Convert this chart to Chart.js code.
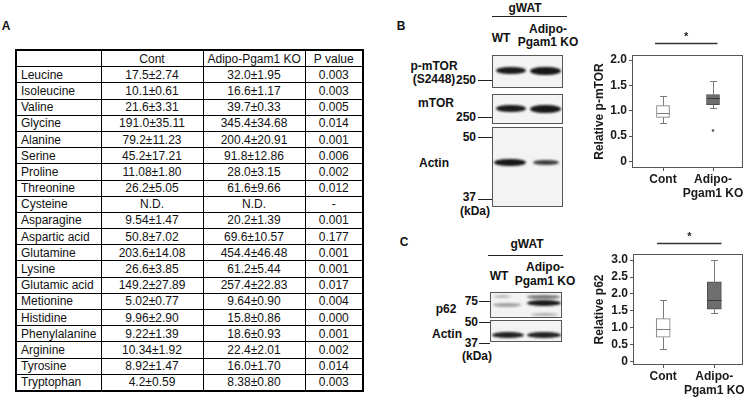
<!DOCTYPE html>
<html>
<head>
<meta charset="utf-8">
<script src="https://cdn.jsdelivr.net/npm/chart.js@4.4.1/dist/chart.umd.min.js"></script>
<style>
  html, body { margin: 0; padding: 0; background: #fff; }
  body { position: relative; width: 747px; height: 401px; overflow: hidden;
         font-family: "Liberation Sans", Arial, sans-serif; color: #111; }
  .t { position: absolute; white-space: nowrap; line-height: 1; font-size: 12px; font-weight: bold; }
  .panel { position: absolute; box-sizing: border-box; border: 1px solid #555; background: #f3f3f3; overflow: hidden; }
  .band { position: absolute; border-radius: 45% / 50%; filter: blur(1px); }
  .tick { position: absolute; height: 1px; background: #222; }
  table { position: absolute; left: 15px; top: 49px; width: 347px; border-collapse: collapse;
          table-layout: fixed; border: 2px solid #000; font-size: 12px; }
  td { border: 1px solid #000; padding: 0 4px; height: 15.2px; line-height: 14px; text-align: center; overflow: hidden; white-space: nowrap; }
  td:first-child { text-align: left; }
  canvas { position: absolute; }
</style>
</head>
<body>
<table id="aaTable">
  <colgroup><col style="width:85px"><col style="width:102px"><col style="width:102px"><col style="width:58px"></colgroup>
  <tbody></tbody>
</table>
<div id="blots"></div>
<canvas id="mtorChart" width="167" height="175" style="left:580px; top:30px;"></canvas>
<canvas id="p62Chart" width="167" height="173" style="left:580px; top:228px;"></canvas>

<script>
// ---- table data (panel A)
const aminoAcids = ["Leucine", "Isoleucine", "Valine", "Glycine", "Alanine", "Serine", "Proline",
    "Threonine", "Cysteine", "Asparagine", "Aspartic acid", "Glutamine", "Lysine", "Glutamic acid",
    "Metionine", "Histidine", "Phenylalanine", "Arginine", "Tyrosine", "Tryptophan"];
const contValues = ["17.5±2.74", "10.1±0.61", "21.6±3.31", "191.0±35.11", "79.2±11.23", "45.2±17.21",
    "11.08±1.80", "26.2±5.05", "N.D.", "9.54±1.47", "50.8±7.02", "203.6±14.08", "26.6±3.85",
    "149.2±27.89", "5.02±0.77", "9.96±2.90", "9.22±1.39", "10.34±1.92", "8.92±1.47", "4.2±0.59"];
const koValues = ["32.0±1.95", "16.6±1.17", "39.7±0.33", "345.4±34.68", "200.4±20.91", "91.8±12.86",
    "28.0±3.15", "61.6±9.66", "N.D.", "20.2±1.39", "69.6±10.57", "454.4±46.48", "61.2±5.44",
    "257.4±22.83", "9.64±0.90", "15.8±0.86", "18.6±0.93", "22.4±2.01", "16.0±1.70", "8.38±0.80"];
const pValues = ["0.003", "0.003", "0.005", "0.014", "0.001", "0.006", "0.002", "0.012", "-", "0.001",
    "0.177", "0.001", "0.001", "0.017", "0.004", "0.000", "0.001", "0.002", "0.014", "0.003"];
const tableHeader = ["", "Cont", "Adipo-Pgam1 KO", "P value"];

// ---- box plot data (panels B and C)
const groups = ["Cont", ["Adipo-", "Pgam1 KO"]];
const mtorLow = [0.76, 1.05];
const mtorQ1 = [0.87, 1.12];
const mtorMedian = [0.96, 1.26];
const mtorQ3 = [1.10, 1.32];
const mtorHigh = [1.30, 1.59];
const mtorOutliers = [[], [0.61]];
const mtorTicks = [0, 0.5, 1.0, 1.5, 2.0];

const p62Low = [0.36, 1.43];
const p62Q1 = [0.72, 1.55];
const p62Median = [0.97, 1.83];
const p62Q3 = [1.27, 2.36];
const p62High = [1.83, 3.0];
const p62Outliers = [[], []];
const p62Ticks = [0, 0.5, 1.0, 1.5, 2.0, 2.5, 3.0];

// build table
const tbody = document.querySelector("#aaTable tbody");
const addRow = (cells) => {
    const tr = document.createElement("tr");
    cells.forEach((c) => {
        const td = document.createElement("td");
        td.textContent = c;
        tr.appendChild(td);
    });
    tbody.appendChild(tr);
};
addRow(tableHeader);
aminoAcids.forEach((name, i) => addRow([name, contValues[i], koValues[i], pValues[i]]));

// text labels + blot images
const blots = document.getElementById("blots");
function text(str, x, y, align, size, lh) {
    const d = document.createElement("div");
    d.className = "t";
    d.innerHTML = str;
    d.style.left = x + "px";
    d.style.top = y + "px";
    if (size) d.style.fontSize = size + "px";
    if (lh) d.style.lineHeight = lh + "px";
    d.style.textAlign = align || "center";
    const tx = align === "right" ? "-100%" : align === "left" ? "0" : "-50%";
    d.style.transform = `translate(${tx}, -50%)`;
    blots.appendChild(d);
}
function panel(x1, y1, x2, y2) {
    const d = document.createElement("div");
    d.className = "panel";
    Object.assign(d.style, { left: x1 + "px", top: y1 + "px", width: (x2 - x1) + "px", height: (y2 - y1) + "px" });
    blots.appendChild(d);
}
function band(x1, x2, yc, h, alpha) {
    const d = document.createElement("div");
    d.className = "band";
    Object.assign(d.style, {
        left: x1 + "px", top: (yc - h / 2) + "px", width: (x2 - x1) + "px", height: h + "px",
        background: `rgba(15,15,15,${alpha})`,
    });
    blots.appendChild(d);
}
function tick(x1, x2, y) {
    const d = document.createElement("div");
    d.className = "tick";
    Object.assign(d.style, { left: x1 + "px", top: y + "px", width: (x2 - x1) + "px" });
    blots.appendChild(d);
}

text("A", 6, 26, "center", 12);
text("B", 401, 26, "center", 12);
text("C", 404, 242, "center", 12);

// panel B blots
text("gWAT", 525, 8);
tick(492, 567, 16);
text("WT", 501, 37.5);
text("Adipo-<br>Pgam1 KO", 548, 35.5, "center", 12, 13);
panel(492, 55, 563, 88);
panel(492, 94, 563, 124);
panel(492, 127, 563, 207);
band(496, 526, 70.5, 7, 0.95);
band(530, 561, 70.5, 8, 0.97);
band(496, 526, 108.5, 7, 0.95);
band(530, 561, 108.5, 8, 0.97);
band(494, 526, 162, 7, 0.97);
band(533, 559, 162.5, 5, 0.8);
text("p-mTOR<br>(S2448)", 434, 72.5, "center", 12, 13);
text("mTOR", 436, 102.5);
text("Actin", 434, 162.5);
text("250", 476, 80, "right");
tick(478, 492, 80);
text("250", 476, 117, "right");
tick(478, 492, 117);
text("50", 476, 136.5, "right");
tick(478, 492, 137);
text("37", 476, 196.5, "right");
tick(478, 492, 199);
text("(kDa)", 475, 211);

// panel C blots
text("gWAT", 527, 244);
tick(488, 563, 255);
text("WT", 499, 276);
text("Adipo-<br>Pgam1 KO", 545, 273.5, "center", 12, 14);
panel(490, 292, 562, 318);
panel(490, 320, 562, 342);
band(494, 511, 296, 3, 0.25);
band(493, 521, 304.5, 4, 0.35);
band(527, 560, 297, 4, 0.55);
band(527, 561, 302.5, 6, 0.95);
band(531, 558, 314, 3, 0.3);
band(492, 524, 334.5, 6, 0.92);
band(527, 561, 334.5, 6, 0.92);
text("p62", 446, 309);
text("Actin", 447, 334);
text("75", 478, 301, "right");
tick(479, 490, 301);
text("50", 478, 322, "right");
tick(479, 490, 322);
text("37", 478, 343, "right");
tick(479, 490, 343);
text("(kDa)", 477, 356);

// ---- box plot plugins
const framePlugin = {
    id: "frame",
    afterDatasetsDraw(chart) {
        const { ctx, chartArea: a } = chart;
        ctx.save();
        ctx.strokeStyle = "#555";
        ctx.lineWidth = 1;
        ctx.strokeRect(Math.round(a.left) + 0.5, Math.round(a.top) + 0.5,
            Math.round(a.right - a.left) - 1, Math.round(a.bottom - a.top) - 1);
        ctx.restore();
    },
};

const whiskerPlugin = {
    id: "whiskers",
    afterDatasetsDraw(chart, args, opts) {
        const { ctx, scales: { x, y } } = chart;
        ctx.save();
        ctx.lineWidth = 1;
        opts.low.forEach((lo, i) => {
            const px = Math.round(x.getPixelForValue(i + 1)) + 0.5;
            const yLo = Math.round(y.getPixelForValue(lo)) + 0.5;
            const yHi = Math.round(y.getPixelForValue(opts.high[i])) + 0.5;
            const yQ1 = y.getPixelForValue(opts.q1[i]);
            const yQ3 = y.getPixelForValue(opts.q3[i]);
            const yMed = Math.round(y.getPixelForValue(opts.median[i])) + 0.5;
            ctx.strokeStyle = opts.whiskerColor;
            ctx.beginPath();
            ctx.moveTo(px, yHi); ctx.lineTo(px, yQ3);
            ctx.moveTo(px, yQ1); ctx.lineTo(px, yLo);
            ctx.moveTo(px - opts.cap, yHi); ctx.lineTo(px + opts.cap, yHi);
            ctx.moveTo(px - opts.cap, yLo); ctx.lineTo(px + opts.cap, yLo);
            ctx.stroke();
            ctx.strokeStyle = opts.medianColor[i];
            ctx.beginPath();
            ctx.moveTo(px - opts.half, yMed); ctx.lineTo(px + opts.half, yMed);
            ctx.stroke();
        });
        ctx.restore();
    },
};

const sigPlugin = {
    id: "sig",
    afterDraw(chart, args, opts) {
        const { ctx, chartArea: a, scales: { x } } = chart;
        const x1 = x.getPixelForValue(opts.from);
        const x2 = x.getPixelForValue(opts.to);
        const ly = Math.round(a.top - opts.lineOffset) + 0.5;
        ctx.save();
        ctx.strokeStyle = "#333";
        ctx.lineWidth = 1.3;
        ctx.beginPath();
        ctx.moveTo(x1, ly); ctx.lineTo(x2, ly);
        ctx.stroke();
        ctx.fillStyle = "#222";
        ctx.font = "bold 11px 'Liberation Sans'";
        ctx.textAlign = "center";
        ctx.textBaseline = "middle";
        ctx.fillText("*", (x1 + x2) / 2, ly - opts.starOffset);
        ctx.restore();
    },
};

Chart.defaults.font.family = "'Liberation Sans', Arial, sans-serif";
Chart.defaults.color = "#1a1a1a";

function boxChart(el, cfg) {
    return new Chart(el, {
        type: "bar",
        data: {
            datasets: [
                {
                    type: "bar",
                    data: cfg.q1.map((q, i) => ({ x: i + 1, y: [q, cfg.q3[i]] })),
                    backgroundColor: ["#ffffff", "#6e6e6e"],
                    borderColor: ["#7a7a7a", "#4d4d4d"],
                    borderWidth: 1,
                    borderSkipped: false,
                    barThickness: cfg.boxWidth,
                },
                {
                    type: "scatter",
                    data: cfg.outliers.flatMap((arr, i) => arr.map((v) => ({ x: i + 1, y: v }))),
                    pointRadius: 1.3,
                    pointBackgroundColor: "#555",
                    pointBorderWidth: 0,
                },
            ],
        },
        options: {
            responsive: false,
            animation: false,
            devicePixelRatio: 1,
            layout: { padding: cfg.padding },
            plugins: {
                legend: { display: false },
                tooltip: { enabled: false },
                whiskers: {
                    low: cfg.low, high: cfg.high, q1: cfg.q1, q3: cfg.q3, median: cfg.median,
                    whiskerColor: "#7a7a7a", medianColor: ["#7a7a7a", "#3a3a3a"],
                    cap: 3.5, half: cfg.boxWidth / 2,
                },
                sig: cfg.sig,
            },
            scales: {
                x: {
                    type: "linear",
                    offset: false,
                    min: cfg.xMin,
                    max: cfg.xMax,
                    afterBuildTicks: (s) => { s.ticks = groups.map((g, i) => ({ value: i + 1 })); },
                    afterFit: (s) => { s.height = cfg.xHeight; s.paddingLeft = 0; s.paddingRight = 0; },
                    grid: { display: true, offset: false, drawOnChartArea: false, drawTicks: true, tickLength: 3, color: "#555" },
                    border: { display: false },
                    ticks: {
                        padding: 2,
                        maxRotation: 0,
                        autoSkip: false,
                        font: { size: 12, weight: "bold", lineHeight: 1.15 },
                        callback: (v, i) => groups[i],
                    },
                },
                y: {
                    min: cfg.yMin,
                    max: cfg.yMax,
                    afterBuildTicks: (s) => { s.ticks = cfg.ticks.map((v) => ({ value: v })); },
                    afterFit: (s) => { s.width = cfg.yWidth; s.paddingTop = 0; s.paddingBottom = 0; },
                    grid: { display: true, drawOnChartArea: false, drawTicks: true, tickLength: 3, color: "#555" },
                    border: { display: false },
                    ticks: {
                        padding: 2,
                        font: { size: 12, weight: "bold" },
                        callback: (v) => (v === 0 ? "0" : v.toFixed(1)),
                    },
                    title: {
                        display: true,
                        text: cfg.title,
                        font: { size: 12, weight: "bold" },
                        padding: { top: 12, bottom: 0 },
                    },
                },
            },
        },
        plugins: [framePlugin, whiskerPlugin, sigPlugin],
    });
}

boxChart(document.getElementById("mtorChart"), {
    q1: mtorQ1, q3: mtorQ3, median: mtorMedian, low: mtorLow, high: mtorHigh, outliers: mtorOutliers,
    ticks: mtorTicks, yMin: -0.13, yMax: 2.1, xMin: 0.38, xMax: 2.6,
    title: "Relative p-mTOR", boxWidth: 13,
    padding: { top: 25, right: 2, left: 0, bottom: 0 }, yWidth: 52, xHeight: 37,
    sig: { from: 0.84, to: 2.09, lineOffset: 12, starOffset: 7 },
});

boxChart(document.getElementById("p62Chart"), {
    q1: p62Q1, q3: p62Q3, median: p62Median, low: p62Low, high: p62High, outliers: p62Outliers,
    ticks: p62Ticks, yMin: -0.1, yMax: 3.18, xMin: 0.41, xMax: 2.56,
    title: "Relative p62", boxWidth: 14,
    padding: { top: 26, right: 4, left: 0, bottom: 0 }, yWidth: 53, xHeight: 36,
    sig: { from: 0.88, to: 2.14, lineOffset: 11, starOffset: 7 },
});
</script>
</body>
</html>
